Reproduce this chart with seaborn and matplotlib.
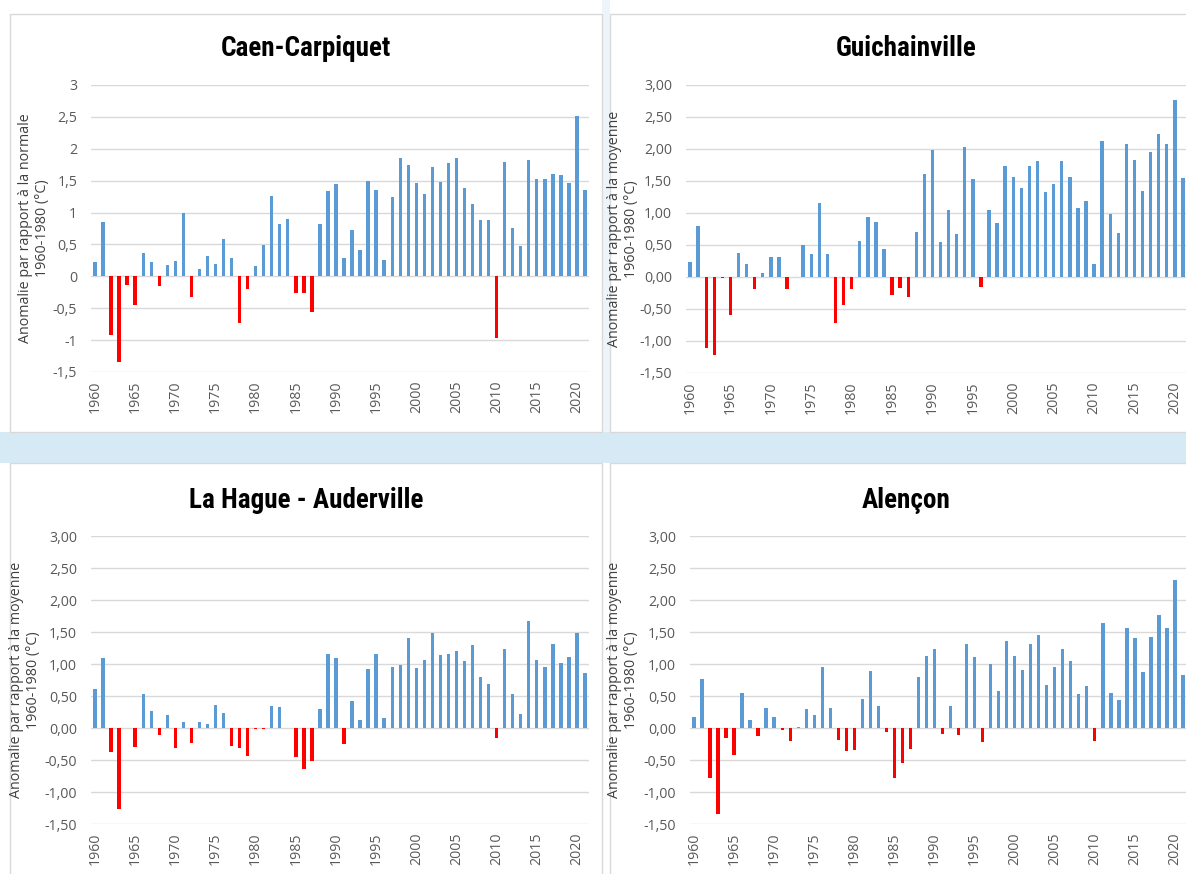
import pandas as pd
import seaborn as sns
import matplotlib.pyplot as plt
from matplotlib import font_manager
from matplotlib.patches import Rectangle
from matplotlib.ticker import FuncFormatter

sns.set_style("white")

installed = {f.name for f in font_manager.fontManager.ttflist}
narrow = [f for f in ['Liberation Sans Narrow', 'Roboto Condensed', 'Open Sans'] if f in installed] + ['DejaVu Sans']
body = [f for f in ['Open Sans', 'Lato'] if f in installed] + ['DejaVu Sans']
plt.rcParams['font.family'] = body

years = list(range(1960, 2022))

caen = [0.23, 0.85, -0.92, -1.35, -0.14, -0.45, 0.37, 0.22, -0.15, 0.18,
        0.24, 0.99, -0.32, 0.12, 0.32, 0.19, 0.58, 0.29, -0.73, -0.20,
        0.16, 0.49, 1.26, 0.82, 0.90, -0.26, -0.26, -0.56, 0.82, 1.34,
        1.45, 0.28, 0.72, 0.42, 1.49, 1.36, 0.26, 1.24, 1.85, 1.75,
        1.47, 1.29, 1.72, 1.48, 1.77, 1.85, 1.39, 1.13, 0.89, 0.88,
        -0.97, 1.80, 0.76, 0.47, 1.83, 1.52, 1.52, 1.61, 1.59, 1.46,
        2.52, 1.35]

guichainville = [0.24, 0.79, -1.11, -1.22, -0.01, -0.60, 0.38, 0.20, -0.19, 0.06,
                 0.31, 0.32, -0.19, 0.0, 0.50, 0.36, 1.15, 0.36, -0.72, -0.43,
                 -0.19, 0.57, 0.93, 0.86, 0.44, -0.28, -0.17, -0.32, 0.70, 1.61,
                 1.98, 0.55, 1.04, 0.67, 2.03, 1.53, -0.15, 1.04, 0.85, 1.74,
                 1.57, 1.39, 1.73, 1.81, 1.33, 1.45, 1.82, 1.57, 1.08, 1.18,
                 0.20, 2.12, 0.99, 0.68, 2.08, 1.83, 1.34, 1.96, 2.23, 2.08,
                 2.76, 1.55]

la_hague = [0.61, 1.09, -0.37, -1.27, 0.0, -0.29, 0.53, 0.26, -0.11, 0.20,
            -0.31, 0.10, -0.23, 0.10, 0.07, 0.36, 0.23, -0.28, -0.32, -0.43,
            -0.02, -0.01, 0.35, 0.33, 0.0, -0.46, -0.64, -0.51, 0.30, 1.16,
            1.10, -0.25, 0.42, 0.12, 0.92, 1.15, 0.15, 0.96, 0.99, 1.41,
            0.93, 1.06, 1.49, 1.14, 1.15, 1.20, 1.04, 1.29, 0.80, 0.68,
            -0.15, 1.24, 0.53, 0.22, 1.67, 1.06, 0.95, 1.32, 1.01, 1.11,
            1.49, 0.86]

alencon = [0.17, 0.77, -0.78, -1.34, -0.15, -0.42, 0.54, 0.12, -0.13, 0.31,
           0.17, -0.03, -0.21, 0.02, 0.30, 0.20, 0.95, 0.31, -0.19, -0.36,
           -0.35, 0.46, 0.89, 0.34, -0.06, -0.78, -0.55, -0.33, 0.79, 1.13,
           1.24, -0.10, 0.34, -0.11, 1.31, 1.11, -0.22, 1.00, 0.58, 1.36,
           1.13, 0.91, 1.32, 1.46, 0.67, 0.95, 1.23, 1.04, 0.53, 0.65,
           -0.21, 1.64, 0.54, 0.43, 1.57, 1.40, 0.87, 1.42, 1.76, 1.56,
           2.31, 0.83]

titles = ['Caen-Carpiquet', 'Guichainville', 'La Hague - Auderville', 'Alençon']
ylabels = ['Anomalie par rapport à la normale\n1960-1980 (°C)',
           'Anomalie par rapport à la moyenne\n1960-1980 (°C)',
           'Anomalie par rapport à la moyenne\n1960-1980 (°C)',
           'Anomalie par rapport à la moyenne\n1960-1980 (°C)']
series = [caen, guichainville, la_hague, alencon]
yticks = [-1.5, -1, -0.5, 0, 0.5, 1, 1.5, 2, 2.5, 3]

W, H = 1186, 874
fig = plt.figure(figsize=(W / 100, H / 100), dpi=100, facecolor='white')

def fx(px):
    return px / W

def fy(py):
    return 1 - py / H

# background strip and white panel boxes (behind the axes)
fig.patches.append(Rectangle((0, fy(463)), 1, fy(432) - fy(463), transform=fig.transFigure,
                             facecolor='#d6eaf6', edgecolor='none', zorder=-3))
fig.patches.append(Rectangle((fx(602), fy(432)), fx(8), fy(0) - fy(432), transform=fig.transFigure,
                             facecolor='#eef5fa', edgecolor='none', zorder=-3))
boxes = [(10, 14, 602, 432), (610, 14, 1190, 432), (10, 463, 602, 880), (610, 463, 1190, 880)]
for x0, y0, x1, y1 in boxes:
    fig.patches.append(Rectangle((fx(x0), fy(y1)), fx(x1 - x0), fy(y0) - fy(y1),
                                 transform=fig.transFigure, facecolor='white',
                                 edgecolor='#d9d9d9', lw=1, zorder=-2))

# plot areas (left, right, top, bottom) in pixels
areas = [(91, 589, 85, 372), (686, 1187, 85, 373), (91, 589, 536, 824), (690, 1187, 536, 824)]
title_pos = [(306, 49), (906, 49), (306, 500), (906, 500)]
ylab_x = [34, 623, 25, 623]

for i, vals in enumerate(series):
    l, r, t, b = areas[i]
    ax = fig.add_axes([fx(l), fy(b), fx(r - l), fy(t) - fy(b)])
    ax.patch.set_alpha(0)
    df = pd.DataFrame({'year': years, 'value': vals})
    df['sign'] = ['pos' if v >= 0 else 'neg' for v in vals]
    sns.barplot(data=df, x='year', y='value', hue='sign', hue_order=['pos', 'neg'],
                palette={'pos': '#5b9bd5', 'neg': '#ff0000'}, dodge=False,
                width=0.42, legend=False, ax=ax, saturation=1, linewidth=0)
    ax.set_xlim(-0.5, len(years) - 0.5)
    ax.set_ylim(-1.5, 3.0)
    ax.set_yticks(yticks)
    if i == 0:
        fmt = FuncFormatter(lambda v, p: ('%g' % v).replace('.', ','))
    else:
        fmt = FuncFormatter(lambda v, p: ('%.2f' % v).replace('.', ','))
    ax.yaxis.set_major_formatter(fmt)
    ax.set_xticks(range(0, len(years), 5))
    ax.set_xticklabels(years[::5], rotation=90)
    ax.tick_params(length=0, labelsize=10.2, labelcolor='#595959')
    ax.tick_params(axis='y', pad=10)
    ax.tick_params(axis='x', pad=6)
    ax.yaxis.grid(True, color='#d9d9d9', lw=1)
    ax.set_axisbelow(True)
    for s in ax.spines.values():
        s.set_visible(False)
    ax.set_xlabel('')
    ax.set_ylabel('')
    tx, ty = title_pos[i]
    fig.text(fx(tx), fy(ty), titles[i], ha='center', va='center', fontsize=19.5,
             fontweight='bold', family=narrow, color='black')
    fig.text(fx(ylab_x[i]), fy((t + b) / 2), ylabels[i], rotation=90, ha='center',
             va='center', fontsize=10.3, color='#404040', multialignment='center',
             linespacing=1.1)

fig.savefig('out.png', dpi=100, facecolor=fig.get_facecolor())
